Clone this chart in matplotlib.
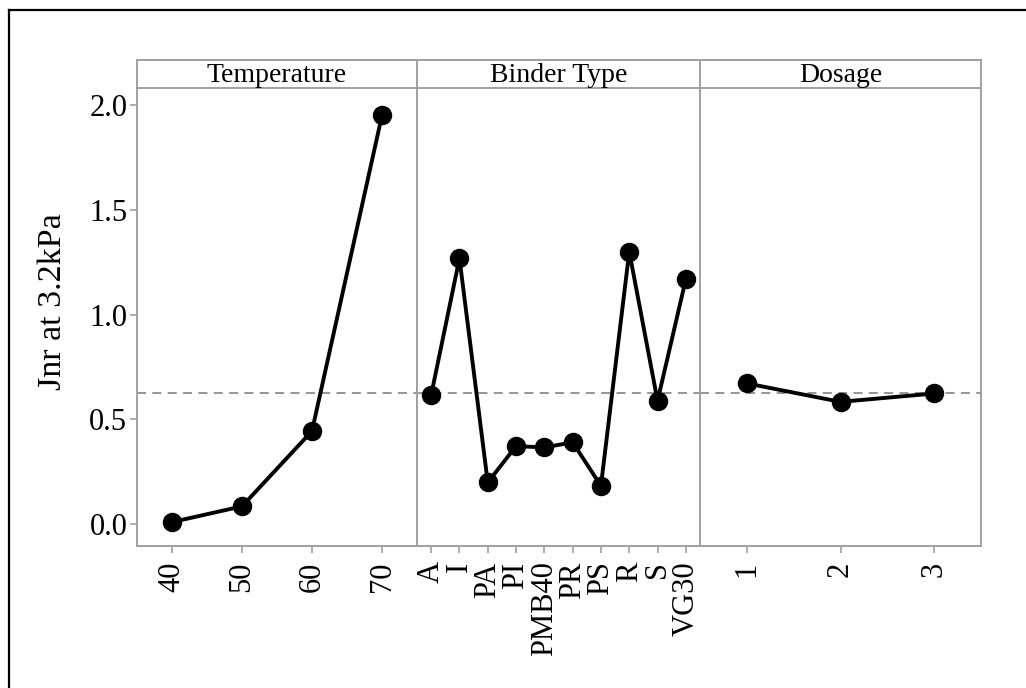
import matplotlib
matplotlib.use('Agg')
import matplotlib.pyplot as plt
from matplotlib.lines import Line2D

plt.rcParams['font.family'] = ['Liberation Serif', 'DejaVu Serif']

# --- Data (means of Jnr at 3.2kPa) ---
temp_levels = ['40', '50', '60', '70']
temp_means = [0.011, 0.086, 0.445, 1.950]

binder_levels = ['A', 'I', 'PA', 'PI', 'PMB40', 'PR', 'PS', 'R', 'S', 'VG30']
binder_means = [0.616, 1.268, 0.200, 0.373, 0.367, 0.391, 0.184, 1.300, 0.589, 1.169]

dosage_levels = ['1', '2', '3']
dosage_means = [0.672, 0.584, 0.624]

grand_mean = 0.626

panels = [
    ('Temperature', temp_levels, temp_means),
    ('Binder Type', binder_levels, binder_means),
    ('Dosage', dosage_levels, dosage_means),
]

# --- Layout (pixel edges of the panels) ---
W, H = 1026, 688
edges = [137, 417, 700, 981]
plot_top, plot_bottom = 88, 546
head_top = 60
grey = '#a0a0a0'

fig = plt.figure(figsize=(W / 100, H / 100), dpi=100)

axes = []
for i, (name, levels, means) in enumerate(panels):
    x0 = edges[i] / W
    w = (edges[i + 1] - edges[i]) / W
    ax = fig.add_axes([x0, 1 - plot_bottom / H, w, (plot_bottom - plot_top) / H])
    xs = list(range(len(levels)))
    ax.axhline(grand_mean, color='#8c8c8c', lw=1.3, ls=(0, (5, 3.5)), zorder=1)
    ax.plot(xs, means, color='black', lw=2.8, marker='o', markersize=13, zorder=3)
    ax.set_xlim(-0.5, len(levels) - 0.5)
    ax.set_ylim(-0.103, 2.08)
    ax.set_xticks(xs)
    ax.set_xticklabels(levels, rotation=90, fontsize=22)
    for s in ax.spines.values():
        s.set_color(grey)
        s.set_linewidth(1.4)
    ax.tick_params(axis='x', color=grey, length=5, width=1.2, pad=6)
    ax.tick_params(axis='y', color=grey, length=5, width=1.2, pad=2)
    if i == 0:
        ax.set_yticks([0.0, 0.5, 1.0, 1.5, 2.0])
        ax.set_yticklabels(['0.0', '0.5', '1.0', '1.5', '2.0'], fontsize=22)
        ax.set_ylabel('Jnr at 3.2kPa', fontsize=24.5)
        ax.yaxis.set_label_coords(-0.246, 0.533)
    else:
        ax.set_yticks([])
    axes.append(ax)

    # header strip
    hax = fig.add_axes([x0, 1 - plot_top / H, w, (plot_top - head_top) / H])
    hax.set_xticks([])
    hax.set_yticks([])
    for s in hax.spines.values():
        s.set_color(grey)
        s.set_linewidth(1.4)
    hax.text(0.5, 0.45, name, ha='center', va='center', fontsize=20,
             transform=hax.transAxes)

# outer frame (left and top edges visible)
fig.add_artist(Line2D([9 / W, 9 / W], [0, 1 - 10 / H], color='black', lw=1.6,
                      transform=fig.transFigure))
fig.add_artist(Line2D([9 / W, 1], [1 - 10 / H, 1 - 10 / H], color='black', lw=1.6,
                      transform=fig.transFigure))

fig.savefig('out.png', dpi=100, facecolor='white')
